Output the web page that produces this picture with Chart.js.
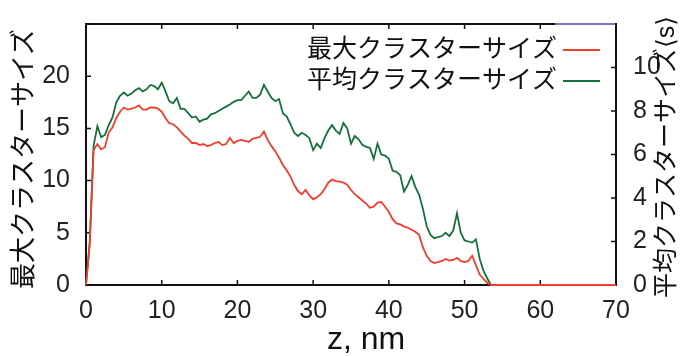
<!DOCTYPE html>
<html>
<head>
<meta charset="utf-8">
<script src="https://cdn.jsdelivr.net/npm/chart.js@4.4.1/dist/chart.umd.min.js"></script>
<style>
html,body{margin:0;padding:0;background:#fff;}
#wrap{width:680px;height:356px;position:relative;}
</style>
</head>
<body>
<div id="wrap"><canvas id="c"></canvas></div>
<script>
// ---- data ----
const zValues = [
  0,0.5,1,1.5,2,2.5,3,3.5,4,4.5,5,5.5,6,6.5,7,7.5,8,8.5,9,9.5,
  10,10.5,11,11.5,12,12.5,13,13.5,14,14.5,15,15.5,16,16.5,17,17.5,18,18.5,19,19.5,
  20,20.5,21,21.5,22,22.5,23,23.5,24,24.5,25,25.5,26,26.5,27,27.5,28,28.5,29,29.5,
  30,30.5,31,31.5,32,32.5,33,33.5,34,34.5,35,35.5,36,36.5,37,37.5,38,38.5,39,39.5,
  40,40.5,41,41.5,42,42.5,43,43.5,44,44.5,45,45.5,46,46.5,47,47.5,48,48.5,49,49.5,
  50,50.5,51,51.5,52,52.5,53,53.5,54,60,70
];
const maxClusterSize = [
  0,4.0,12.9,13.5,13.0,13.2,14.6,15.1,16.0,16.6,17.0,16.8,16.9,17.0,17.2,16.8,16.8,17.0,17.0,16.9,
  16.6,16.0,15.5,15.4,15.1,14.7,14.3,14.0,13.6,13.6,13.4,13.5,13.3,13.4,13.6,13.7,13.4,13.5,14.1,13.6,
  13.8,13.9,13.8,13.7,14.0,14.1,14.2,14.7,13.9,13.3,12.8,12.2,11.5,11.0,10.4,9.6,9.0,8.7,9.1,8.6,
  8.2,8.4,8.7,9.2,9.8,10.1,9.95,9.9,9.8,9.6,9.1,8.7,8.4,8.1,7.8,7.4,7.5,7.9,7.95,7.5,
  7.0,6.3,5.9,5.8,5.6,5.5,5.3,5.1,4.8,3.6,2.8,2.3,2.1,2.2,2.3,2.5,2.35,2.4,2.6,2.3,
  2.2,2.3,2.8,1.9,1.0,0.6,0.2,0,0,0,0
];
const avgClusterSize = [
  0,2.0,6.4,7.3,6.8,6.9,7.35,7.7,8.4,8.7,8.85,8.7,8.8,8.95,9.05,8.9,9.0,9.2,9.15,9.0,
  9.3,8.9,8.45,8.35,8.6,8.1,8.1,7.9,7.7,7.75,7.5,7.6,7.65,7.85,7.9,8.0,8.1,8.2,8.3,8.42,
  8.5,8.5,8.7,8.9,8.6,8.6,8.75,9.2,8.9,8.6,8.45,8.55,7.9,7.75,7.4,7.0,6.85,7.0,6.9,6.75,
  6.2,6.5,6.3,6.75,7.1,7.35,7.1,6.95,7.45,7.2,6.5,6.85,6.7,6.45,6.35,6.3,5.8,6.5,6.0,5.95,
  5.8,5.25,5.2,5.05,4.3,4.6,5.0,4.5,4.15,3.5,2.7,2.3,2.15,2.2,2.25,2.4,2.25,2.5,3.3,2.4,
  2.05,2.0,1.95,2.1,1.2,0.65,0.3,0,0,0,0
];
const seriesNames = ['最大クラスターサイズ', '平均クラスターサイズ'];
const leftTitle = '最大クラスターサイズ';
const rightTitle = '平均クラスターサイズ⟨s⟩';
const xTitle = 'z, nm';

const RED = '#ef3e2e';
const GREEN = '#14703a';
const NUM_FONT = "'Liberation Sans', Arial, Helvetica, sans-serif";
const CJK_FONT = "'Liberation Sans', 'Noto Sans CJK JP', 'DejaVu Sans', sans-serif";

const toPts = arr => arr.map((v, i) => ({x: zValues[i], y: v}));

const decor = {
  id: 'decor',
  beforeDatasetsDraw(chart) {
    const {ctx, chartArea: a, scales} = chart;
    ctx.save();
    ctx.strokeStyle = '#111';
    ctx.lineWidth = 2;
    ctx.strokeRect(a.left, a.top, a.right - a.left, a.bottom - a.top);
    const L = 5;
    ctx.lineWidth = 1.5;
    ctx.beginPath();
    scales.x.ticks.forEach(t => {
      const px = scales.x.getPixelForValue(t.value);
      ctx.moveTo(px, a.bottom); ctx.lineTo(px, a.bottom - L);
      ctx.moveTo(px, a.top); ctx.lineTo(px, a.top + L);
    });
    scales.y.ticks.forEach(t => {
      const py = scales.y.getPixelForValue(t.value);
      ctx.moveTo(a.left, py); ctx.lineTo(a.left + L, py);
    });
    scales.y2.ticks.forEach(t => {
      const py = scales.y2.getPixelForValue(t.value);
      ctx.moveTo(a.right, py); ctx.lineTo(a.right - L, py);
    });
    ctx.stroke();
    // small bluish segment on the top border (as in the reference)
    ctx.strokeStyle = '#7a78b8';
    ctx.lineWidth = 2;
    ctx.beginPath();
    ctx.moveTo(a.right - 61, a.top); ctx.lineTo(a.right - 1, a.top);
    ctx.stroke();
    ctx.restore();
  },
  afterDraw(chart) {
    const {ctx} = chart;
    ctx.save();
    ctx.fillStyle = '#111';
    // left axis title
    ctx.font = "26px " + CJK_FONT;
    ctx.textAlign = 'center';
    ctx.textBaseline = 'middle';
    ctx.save();
    ctx.translate(25, 159);
    ctx.rotate(-Math.PI / 2);
    ctx.fillText(leftTitle, 0, 0);
    ctx.restore();
    // right axis title
    ctx.font = "25px " + CJK_FONT;
    ctx.save();
    ctx.translate(667, 157);
    ctx.rotate(-Math.PI / 2);
    ctx.fillText(rightTitle, 0, 0);
    ctx.restore();
    // x axis title
    ctx.font = "32px " + NUM_FONT;
    ctx.textBaseline = 'alphabetic';
    ctx.fillText(xTitle, 366, 349);
    // legend
    ctx.font = "25px " + CJK_FONT;
    ctx.textAlign = 'right';
    ctx.textBaseline = 'middle';
    const rows = [{y: 50, c: RED}, {y: 81, c: GREEN}];
    rows.forEach((r, i) => {
      ctx.fillStyle = '#111';
      ctx.fillText(seriesNames[i], 557, r.y);
      ctx.strokeStyle = r.c;
      ctx.lineWidth = 2;
      ctx.beginPath();
      ctx.moveTo(563, r.y); ctx.lineTo(600, r.y);
      ctx.stroke();
    });
    ctx.restore();
  }
};

new Chart(document.getElementById('c'), {
  type: 'line',
  data: {
    datasets: [
      {label: seriesNames[0], data: toPts(maxClusterSize), yAxisID: 'y',
       borderColor: RED, borderWidth: 1.8, pointRadius: 0, tension: 0, clip: 4, fill: false},
      {label: seriesNames[1], data: toPts(avgClusterSize), yAxisID: 'y2',
       borderColor: GREEN, borderWidth: 1.8, pointRadius: 0, tension: 0, clip: 4, fill: false}
    ]
  },
  options: {
    responsive: true,
    maintainAspectRatio: false,
    animation: false,
    devicePixelRatio: 1,
    layout: {padding: {top: 20, left: 0, right: 0, bottom: 0}},
    plugins: {legend: {display: false}, tooltip: {enabled: false}},
    scales: {
      x: {
        type: 'linear', min: 0, max: 70,
        grid: {display: false}, border: {display: false},
        ticks: {stepSize: 10, color: '#222', padding: 3, font: {size: 25, family: NUM_FONT}, maxRotation: 0},
        afterFit: s => { s.height = 71; }
      },
      y: {
        position: 'left', min: 0, max: 25,
        grid: {display: false}, border: {display: false},
        ticks: {stepSize: 5, color: '#222', padding: 8, font: {size: 25, family: NUM_FONT},
                callback: v => (v === 25 ? '' : v)},
        afterFit: s => { s.width = 86; }
      },
      y2: {
        position: 'right', min: 0, max: 12,
        grid: {display: false}, border: {display: false},
        ticks: {stepSize: 2, color: '#222', padding: 9, font: {size: 25, family: NUM_FONT},
                callback: v => (v === 12 ? '' : v)},
        afterFit: s => { s.width = 64; }
      }
    }
  },
  plugins: [decor]
});
</script>
</body>
</html>
